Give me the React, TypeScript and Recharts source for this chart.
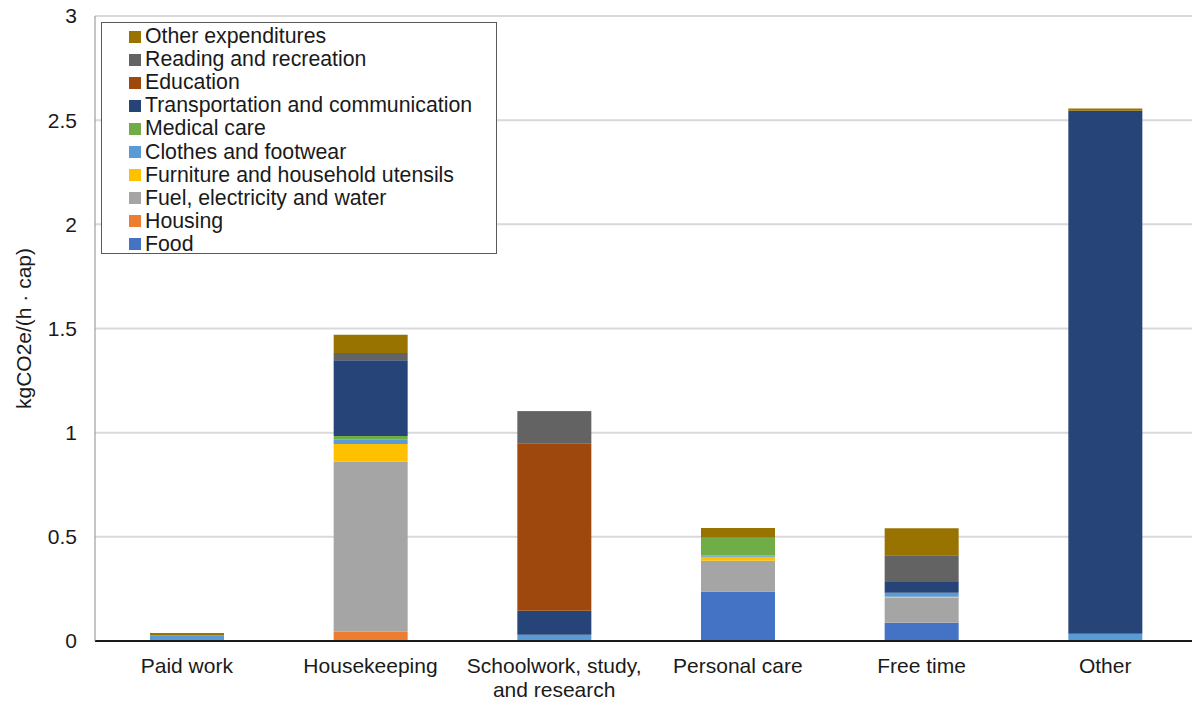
import { BarChart, Bar, XAxis, YAxis, CartesianGrid, Legend } from "recharts";

// ── Data ──────────────────────────────────────────────────────────────────────

const CATEGORIES = [
  "Paid work",
  "Housekeeping",
  "Schoolwork, study,\nand research",
  "Personal care",
  "Free time",
  "Other",
];

const food        = [0,     0,     0,     0.238, 0.088, 0];
const housing     = [0,     0.045, 0,     0,     0,     0];
const fuel        = [0,     0.815, 0,     0.147, 0.12,  0];
const furniture   = [0,     0.086, 0,     0.019, 0.005, 0];
const clothes     = [0.028, 0.022, 0.03,  0.006, 0.019, 0.035];
const medical     = [0,     0.016, 0,     0.086, 0,     0];
const transport   = [0,     0.364, 0.115, 0,     0.051, 2.51];
const education   = [0,     0,     0.804, 0,     0,     0];
const reading     = [0,     0.034, 0.15,  0,     0.129, 0];
const otherExp    = [0.01,  0.088, 0.005, 0.046, 0.129, 0.011];

const Y_TICKS = [0, 0.5, 1, 1.5, 2, 2.5, 3];

// stacking order, bottom to top
const SERIES = [
  { key: "food",      name: "Food",                             color: "#4472C4", values: food },
  { key: "housing",   name: "Housing",                          color: "#ED7D31", values: housing },
  { key: "fuel",      name: "Fuel, electricity and water",      color: "#A5A5A5", values: fuel },
  { key: "furniture", name: "Furniture and household utensils", color: "#FFC000", values: furniture },
  { key: "clothes",   name: "Clothes and footwear",             color: "#5B9BD5", values: clothes },
  { key: "medical",   name: "Medical care",                     color: "#70AD47", values: medical },
  { key: "transport", name: "Transportation and communication", color: "#264478", values: transport },
  { key: "education", name: "Education",                        color: "#9E480E", values: education },
  { key: "reading",   name: "Reading and recreation",           color: "#636363", values: reading },
  { key: "other",     name: "Other expenditures",               color: "#997300", values: otherExp },
];

const chartData = CATEGORIES.map((cat, i) => {
  const row: Record<string, string | number> = { cat };
  SERIES.forEach((s) => { row[s.key] = s.values[i]; });
  return row;
});

const FONT = "'Liberation Sans', Arial, sans-serif";
const TEXT = "#1a1a1a";

// ── Axis pieces ───────────────────────────────────────────────────────────────

function CatTick({ x, y, payload }: { x?: number; y?: number; payload?: { value: string } }) {
  const lines = String(payload?.value ?? "").split("\n");
  return (
    <text x={x} y={(y ?? 0) + 32} textAnchor="middle" fill={TEXT} fontSize={21} fontFamily={FONT}>
      {lines.map((ln, i) => (
        <tspan key={i} x={x} dy={i === 0 ? 0 : 24}>{ln}</tspan>
      ))}
    </text>
  );
}

function YLabel({ viewBox }: { viewBox?: { x: number; y: number; width: number; height: number } }) {
  if (!viewBox) return null;
  const cx = viewBox.x + 24;
  const cy = viewBox.y + viewBox.height / 2;
  return (
    <text
      x={cx}
      y={cy}
      transform={`rotate(-90, ${cx}, ${cy})`}
      textAnchor="middle"
      dy="0.35em"
      fill={TEXT}
      fontSize={21}
      fontFamily={FONT}
    >
      kgCO2e/(h · cap)
    </text>
  );
}

function BoxLegend() {
  return (
    <div style={{
      width: 396,
      height: 232,
      boxSizing: "border-box",
      border: "1px solid #5a5a5a",
      background: "#fff",
      padding: "2px 0 0 27px",
      fontFamily: FONT,
      fontSize: 21.3,
      color: TEXT,
    }}>
      {[...SERIES].reverse().map((s) => (
        <div key={s.key} style={{ display: "flex", alignItems: "center", height: 23.1, whiteSpace: "nowrap" }}>
          <span style={{ display: "inline-block", width: 12, height: 12, background: s.color, marginRight: 4 }} />
          {s.name}
        </div>
      ))}
    </div>
  );
}

// ── Chart ─────────────────────────────────────────────────────────────────────

export default function App() {
  return (
    <div style={{ position: "absolute", left: 0, top: 0, width: 1192, height: 701, overflow: "hidden", background: "#fff" }}>
      <BarChart
        width={1197}
        height={701}
        data={chartData}
        margin={{ top: 16, right: 0, bottom: 0, left: 0 }}
        barSize={74}
      >
        <CartesianGrid vertical={false} stroke="#d9d9d9" strokeWidth={2} />
        <XAxis
          dataKey="cat"
          height={60}
          interval={0}
          tickLine={false}
          tickSize={0}
          tickMargin={0}
          axisLine={{ stroke: TEXT, strokeWidth: 2 }}
          tick={<CatTick />}
        />
        <YAxis
          width={95}
          domain={[0, 3]}
          ticks={Y_TICKS}
          tickLine={false}
          tickSize={0}
          tickMargin={18}
          axisLine={{ stroke: "#8c8c8c", strokeWidth: 1 }}
          tick={{ fill: TEXT, fontSize: 21, fontFamily: FONT }}
          label={<YLabel />}
        />
        <Legend
          layout="vertical"
          align="center"
          verticalAlign="middle"
          wrapperStyle={{ left: 101, top: 22 }}
          content={<BoxLegend />}
        />
        {SERIES.map((s) => (
          <Bar
            key={s.key}
            dataKey={s.key}
            name={s.name}
            stackId="a"
            fill={s.color}
            isAnimationActive={false}
          />
        ))}
      </BarChart>
    </div>
  );
}
